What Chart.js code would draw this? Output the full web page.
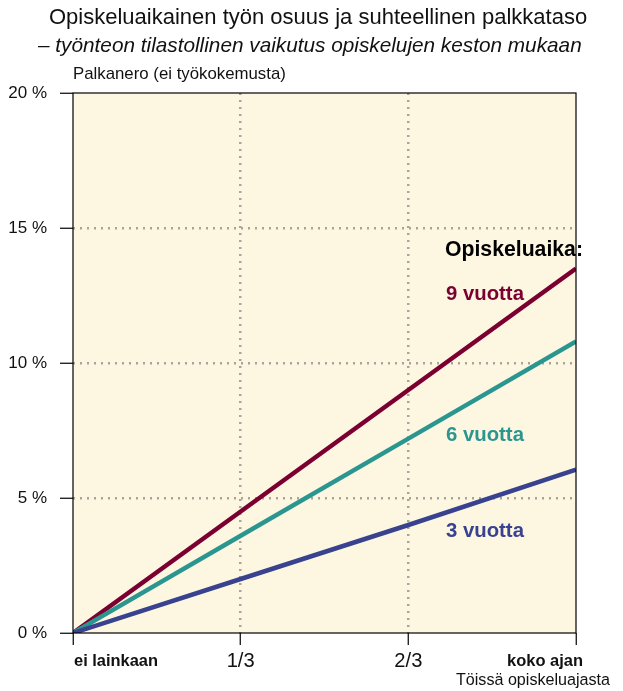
<!DOCTYPE html>
<html><head><meta charset="utf-8">
<script src="https://cdn.jsdelivr.net/npm/chart.js@4"></script>
<style>html,body{margin:0;padding:0;background:#fff}#wrap{width:623px;height:691px}</style>
</head><body><div id="wrap"><canvas id="c" width="623" height="691"></canvas></div>
<script>
const xValues = [0, 1, 2, 3];
const xTickLabels = ['ei lainkaan', '1/3', '2/3', 'koko ajan'];
const yTicks = [0, 5, 10, 15, 20];
const series9 = [0, 4.5, 9.0, 13.5];
const series6 = [0, 3.6, 7.2, 10.8];
const series3 = [0, 2.0, 4.0, 6.05];
const seriesNames = ['9 vuotta', '6 vuotta', '3 vuotta'];
const title = 'Opiskeluaikainen työn osuus ja suhteellinen palkkataso';
const subtitle = '– työnteon tilastollinen vaikutus opiskelujen keston mukaan';
const yTitle = 'Palkanero (ei työkokemusta)';
const xTitle = 'Töissä opiskeluajasta';
const legendTitle = 'Opiskeluaika:';

const COLORS = ['#7b0031', '#2b9690', '#39428f'];
const BG = '#fdf7e2';
const FAM = '"Liberation Sans", Arial, sans-serif';

function fitText(ctx, text, style, weight, fam, targetW) {
  let s = 20;
  ctx.font = `${style} ${weight} ${s}px ${fam}`;
  const w = ctx.measureText(text).width;
  s = s * targetW / w;
  return `${style} ${weight} ${s.toFixed(2)}px ${fam}`;
}

const bgPlugin = {
  id: 'bg',
  beforeDraw(chart) {
    const {ctx, chartArea: a} = chart;
    ctx.save();
    ctx.fillStyle = BG;
    ctx.fillRect(a.left, a.top, a.right - a.left, a.bottom - a.top);
    ctx.restore();
  },
  afterDatasetsDraw(chart) {
    const {ctx, chartArea: a, scales} = chart;
    ctx.save();
    ctx.strokeStyle = '#000';
    ctx.lineWidth = 1.2;
    ctx.strokeRect(a.left, a.top, a.right - a.left, a.bottom - a.top);
    ctx.fillStyle = '#111';
    ctx.textBaseline = 'middle';
    ctx.textAlign = 'left';
    ctx.font = fitText(ctx, title, 'normal', 'normal', FAM, 538);
    ctx.fillText(title, 49, 18);
    ctx.font = fitText(ctx, subtitle, 'italic', 'normal', FAM, 544);
    ctx.fillText(subtitle, 38, 46);
    ctx.font = fitText(ctx, yTitle, 'normal', 'normal', FAM, 213);
    ctx.fillText(yTitle, 73, 74);
    ctx.textAlign = 'right';
    ctx.font = fitText(ctx, xTitle, 'normal', 'normal', FAM, 154);
    ctx.fillText(xTitle, 610, 681);
    const xs = scales.x;
    xTickLabels.forEach((t, i) => {
      const px = xs.getPixelForValue(xValues[i]);
      const bold = (i === 0 || i === xTickLabels.length - 1);
      if (i === 0) { ctx.font = fitText(ctx, t, 'normal', 'bold', FAM, 84); ctx.textAlign = 'left'; ctx.fillText(t, px + 1, 661); }
      else if (i === xTickLabels.length - 1) { ctx.font = fitText(ctx, t, 'normal', 'bold', FAM, 76); ctx.textAlign = 'right'; ctx.fillText(t, px + 7, 661); }
      else { ctx.font = fitText(ctx, t, 'normal', 'normal', FAM, 28); ctx.textAlign = 'center'; ctx.fillText(t, px, 661); }
    });
    ctx.textAlign = 'left';
    ctx.fillStyle = '#000';
    ctx.font = fitText(ctx, legendTitle, 'normal', 'bold', FAM, 138);
    ctx.fillText(legendTitle, 445, 250);
    const ly = [294, 435, 531];
    seriesNames.forEach((n, i) => {
      ctx.fillStyle = COLORS[i];
      ctx.font = fitText(ctx, n, 'normal', 'bold', FAM, 78);
      ctx.fillText(n, 446, ly[i]);
    });
    ctx.restore();
  }
};

const GRID = '#a8a39b';

new Chart(document.getElementById('c'), {
  type: 'line',
  data: {
    datasets: [
      { label: seriesNames[0], data: xValues.map((x, i) => ({x, y: series9[i]})), borderColor: COLORS[0] },
      { label: seriesNames[1], data: xValues.map((x, i) => ({x, y: series6[i]})), borderColor: COLORS[1] },
      { label: seriesNames[2], data: xValues.map((x, i) => ({x, y: series3[i]})), borderColor: COLORS[2] }
    ].map(d => Object.assign(d, { borderWidth: 4.5, pointRadius: 0, fill: false, tension: 0, borderCapStyle: 'butt' })).reverse()
  },
  options: {
    responsive: false,
    animation: false,
    devicePixelRatio: 1,
    layout: { padding: { top: 93, left: 0, right: 47, bottom: 0 } },
    plugins: { legend: { display: false }, tooltip: { enabled: false }, title: { display: false } },
    scales: {
      x: {
        type: 'linear', min: 0, max: 3,
        afterBuildTicks(s) { s.ticks = xValues.map(v => ({ value: v })); },
        afterFit(s) { s.height = 58; },
        ticks: { display: false },
        border: { display: false, dash: [2, 5] },
        grid: {
          color: (c) => (c.tick && (c.tick.value === 0 || c.tick.value === 3)) ? 'rgba(0,0,0,0)' : GRID,
          lineWidth: 2.5,
          drawTicks: true, tickLength: 12, tickColor: '#000', tickWidth: 1.2, tickBorderDash: []
        }
      },
      y: {
        min: 0, max: 20,
        afterBuildTicks(s) { s.ticks = yTicks.map(v => ({ value: v })); },
        afterFit(s) { s.width = 73; },
        ticks: { callback: v => v + ' %', color: '#111', font: { family: FAM, size: 17 }, padding: 13 },
        border: { display: false, dash: [2, 5] },
        grid: {
          color: (c) => (c.tick && (c.tick.value === 0 || c.tick.value === 20)) ? 'rgba(0,0,0,0)' : GRID,
          lineWidth: 2.5,
          drawTicks: true, tickLength: 13, tickColor: '#000', tickWidth: 1.2, tickBorderDash: []
        }
      }
    }
  },
  plugins: [bgPlugin]
});
</script></body></html>
